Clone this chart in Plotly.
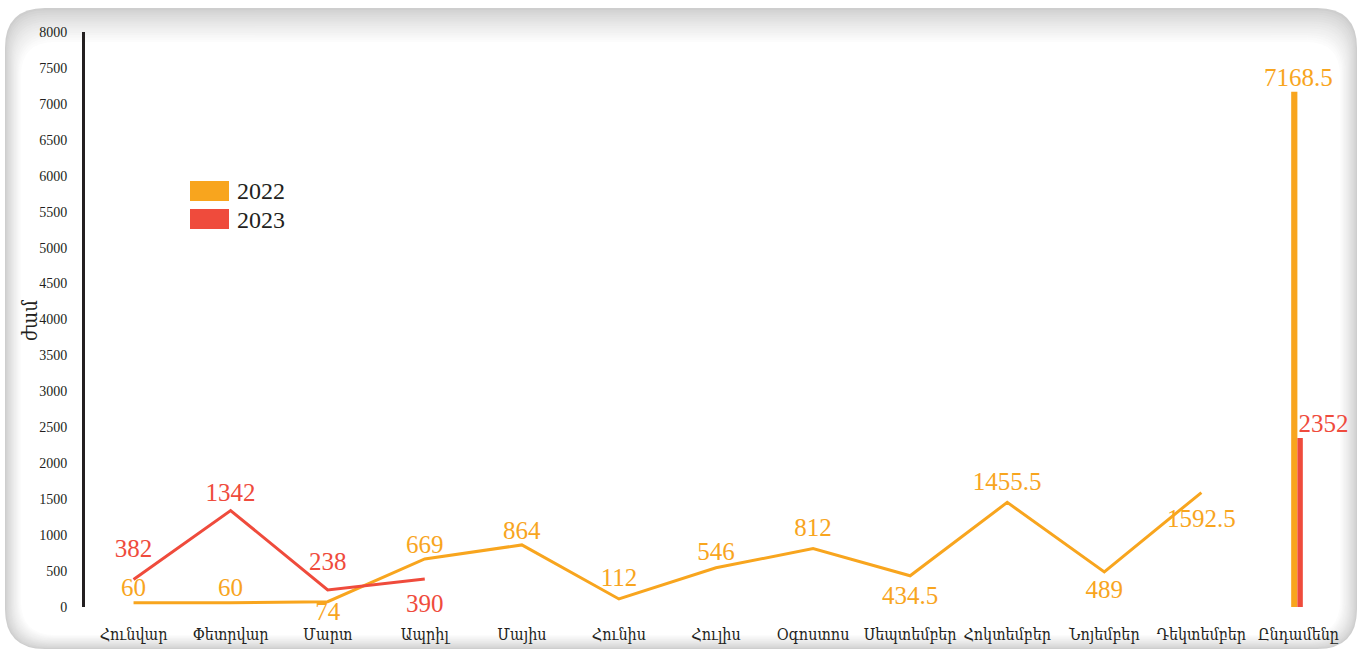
import plotly.graph_objects as go

# ---------------- data ----------------
months = ["Հունվար", "Փետրվար", "Մարտ", "Ապրիլ", "Մայիս", "Հունիս", "Հուլիս",
          "Օգոստոս", "Սեպտեմբեր", "Հոկտեմբեր", "Նոյեմբեր", "Դեկտեմբեր"]
total_label = "Ընդամենը"
categories = months + [total_label]

values_2022 = [60, 60, 74, 669, 864, 112, 546, 812, 434.5, 1455.5, 489, 1592.5]
values_2023 = [382, 1342, 238, 390]
total_2022 = 7168.5
total_2023 = 2352

series_names = ["2022", "2023"]
y_title = "ժամ"
y_ticks = list(range(0, 8001, 500))

# ---------------- style ----------------
ORANGE = "#F8A51E"
RED = "#EF4B3C"
DARK = "#231F20"
SERIF = "Liberation Serif, DejaVu Serif, serif"
ARM = "DejaVu Serif Condensed, DejaVu Serif, Noto Sans, serif"

# label placement (style only): position and gap (invisible marker size) per point
pos_2022 = ["top center", "top center", "bottom center", "top center", "top center",
            "top center", "top center", "top center", "bottom center", "top center",
            "bottom center", "bottom center"]
gap_2022 = [0, 0, 0, 0, 0, 9, 1, 9, 13, 8, 10, 24]
pos_2023 = ["top center", "top center", "top center", "bottom center"]
gap_2023 = [24, 3, 21, 22]

W, H = 1361, 650
L, R, T, B = 85, 14, 32, 43
PW, PH = W - L - R, H - T - B


def xp(px):
    return (px - L) / PW


def yp(py):
    return (H - B - py) / PH


def rr(x0, y0, x1, y1, r):
    pts = [
        f"M{xp(x0 + r)},{yp(y0)}",
        f"L{xp(x1 - r)},{yp(y0)}",
        f"Q{xp(x1)},{yp(y0)} {xp(x1)},{yp(y0 + r)}",
        f"L{xp(x1)},{yp(y1 - r)}",
        f"Q{xp(x1)},{yp(y1)} {xp(x1 - r)},{yp(y1)}",
        f"L{xp(x0 + r)},{yp(y1)}",
        f"Q{xp(x0)},{yp(y1)} {xp(x0)},{yp(y1 - r)}",
        f"L{xp(x0)},{yp(y0 + r)}",
        f"Q{xp(x0)},{yp(y0)} {xp(x0 + r)},{yp(y0)}",
        "Z",
    ]
    return " ".join(pts)


shapes = []
# card with soft inner gray edge
N = 16
for i in range(N):
    t = i / (N - 1)
    g = int(round(206 + 49 * (t ** 0.8)))
    col = f"rgb({g},{g},{g})"
    shapes.append(dict(
        type="path", xref="paper", yref="paper", layer="below",
        path=rr(5 + 16 * t, 8 + 34 * t, 1357 - 17 * t, 649 - 14 * t, 40 - 6 * t),
        fillcolor=col, line=dict(width=0),
    ))

# legend swatches
shapes.append(dict(type="rect", xref="paper", yref="paper",
                   x0=xp(190), x1=xp(229), y0=yp(201), y1=yp(181),
                   fillcolor=ORANGE, line=dict(width=0)))
shapes.append(dict(type="rect", xref="paper", yref="paper",
                   x0=xp(190), x1=xp(229), y0=yp(229), y1=yp(209),
                   fillcolor=RED, line=dict(width=0)))

annotations = [
    dict(text=series_names[0], xref="paper", yref="paper", x=xp(235), y=yp(191),
         xanchor="left", yanchor="middle", showarrow=False,
         font=dict(family=SERIF, size=24, color=DARK)),
    dict(text=series_names[1], xref="paper", yref="paper", x=xp(235), y=yp(220),
         xanchor="left", yanchor="middle", showarrow=False,
         font=dict(family=SERIF, size=24, color=DARK)),
    # y-axis title
    dict(text=y_title, xref="paper", yref="paper", x=xp(30), y=yp(320),
         xanchor="center", yanchor="middle", textangle=-90, showarrow=False,
         font=dict(family=ARM, size=20, color=DARK)),
]

fig = go.Figure()

fig.add_trace(go.Scatter(
    x=months, y=values_2022, mode="lines+markers+text", name=series_names[0],
    line=dict(color=ORANGE, width=3),
    marker=dict(size=gap_2022, color="rgba(0,0,0,0)", line=dict(width=0)),
    text=[f"{v:g}" for v in values_2022], textposition=pos_2022,
    textfont=dict(family=SERIF, size=25, color=ORANGE),
    showlegend=False, cliponaxis=False, hoverinfo="x+y",
))
fig.add_trace(go.Scatter(
    x=months[:len(values_2023)], y=values_2023, mode="lines+markers+text", name=series_names[1],
    line=dict(color=RED, width=3),
    marker=dict(size=gap_2023, color="rgba(0,0,0,0)", line=dict(width=0)),
    text=[f"{v:g}" for v in values_2023], textposition=pos_2023,
    textfont=dict(family=SERIF, size=25, color=RED),
    showlegend=False, cliponaxis=False, hoverinfo="x+y",
))

# totals as thin bars
fig.add_trace(go.Bar(
    x=[total_label], y=[total_2022], width=[0.064], offset=[-0.075],
    marker=dict(color=ORANGE, line=dict(width=0)), showlegend=False,
))
fig.add_trace(go.Bar(
    x=[total_label], y=[total_2023], width=[0.056], offset=[-0.011],
    marker=dict(color=RED, line=dict(width=0)), showlegend=False,
))
fig.add_trace(go.Scatter(
    x=[total_label], y=[total_2022], mode="text", text=[f"{total_2022:g}"],
    textposition="top center", textfont=dict(family=SERIF, size=25, color=ORANGE),
    showlegend=False, cliponaxis=False,
))
fig.add_trace(go.Scatter(
    x=[total_label], y=[total_2023], mode="text", text=[f"{total_2023:g}"],
    textposition="top right", textfont=dict(family=SERIF, size=25, color=RED),
    showlegend=False, cliponaxis=False,
))

fig.update_layout(
    width=W, height=H,
    margin=dict(l=L, r=R, t=T, b=B, pad=0),
    paper_bgcolor="white", plot_bgcolor="rgba(0,0,0,0)",
    barmode="overlay",
    shapes=shapes, annotations=annotations,
    showlegend=False,
    xaxis=dict(
        type="category", categoryorder="array", categoryarray=categories,
        range=[-0.5, len(categories) - 0.5],
        showgrid=False, zeroline=False, showline=False,
        ticks="", ticklabelstandoff=16, tickangle=0, automargin=False,
        tickfont=dict(family=ARM, size=16, color=DARK),
    ),
    yaxis=dict(
        range=[0, 8000], tickvals=y_ticks, ticktext=[str(v) for v in y_ticks],
        showgrid=False, zeroline=False, automargin=False,
        showline=True, linecolor=DARK, linewidth=3,
        ticks="", ticklabelstandoff=12,
        tickfont=dict(family=SERIF, size=14, color=DARK),
    ),
)

fig.write_html("out.html", config={"displayModeBar": False},
               post_script="document.body.style.margin='0';document.body.style.overflow='hidden';")
